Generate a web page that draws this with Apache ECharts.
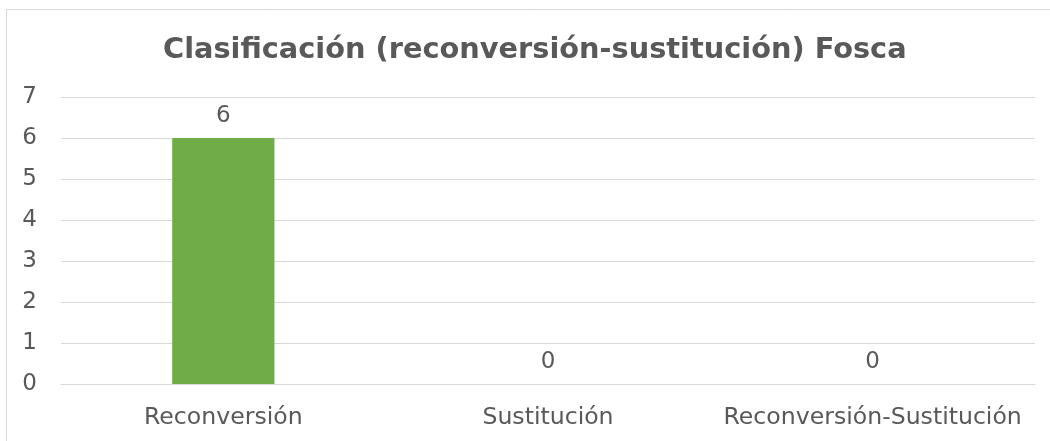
<!DOCTYPE html>
<html>
<head>
<meta charset="utf-8">
<script src="https://cdn.jsdelivr.net/npm/echarts@6/dist/echarts.min.js"></script>
<style>
  html, body { margin: 0; padding: 0; background: #fff; }
  #chart { width: 1050px; height: 441px; }
</style>
</head>
<body>
<div id="chart"></div>
<script>
// datos del gráfico
const titulo = 'Clasificación (reconversión-sustitución) Fosca';
const categorias = ['Reconversión', 'Sustitución', 'Reconversión-Sustitución'];
const valores = [6, 0, 0];

const gris = '#595959';
const fuente = "'DejaVu Sans', Verdana, sans-serif";

const chart = echarts.init(document.getElementById('chart'));
chart.setOption({
  animation: false,
  textStyle: { fontFamily: fuente },
  // marco del gráfico (el borde derecho queda fuera de la imagen)
  graphic: [{
    type: 'rect',
    shape: { x: 6.5, y: 9.5, width: 1060, height: 440 },
    style: { fill: 'none', stroke: '#d9d9d9', lineWidth: 1 },
    silent: true
  }],
  title: {
    text: titulo,
    left: 158,
    top: 31,
    textStyle: { fontFamily: fuente, fontSize: 28.8, fontWeight: 'bold', color: gris }
  },
  grid: { left: 61, right: 15, top: 97, bottom: 57, containLabel: false },
  xAxis: {
    type: 'category',
    data: categorias,
    axisLine: { show: true, lineStyle: { color: '#d9d9d9', width: 1 } },
    axisTick: { show: false },
    axisLabel: { interval: 0, hideOverlap: false, color: gris, fontSize: 23.6, margin: 22, fontFamily: fuente }
  },
  yAxis: {
    type: 'value',
    min: 0,
    max: 7,
    interval: 1,
    axisLine: { show: false },
    axisTick: { show: false },
    axisLabel: { color: gris, fontSize: 23, margin: 24, align: 'right', fontFamily: fuente },
    splitLine: { lineStyle: { color: '#d9d9d9', width: 1 } }
  },
  series: [{
    type: 'bar',
    data: valores,
    barWidth: '31.5%',
    itemStyle: { color: '#70ad47' },
    label: {
      show: true,
      position: 'top',
      distance: 10,
      color: gris,
      fontSize: 23,
      fontFamily: fuente
    }
  }]
});
</script>
</body>
</html>
